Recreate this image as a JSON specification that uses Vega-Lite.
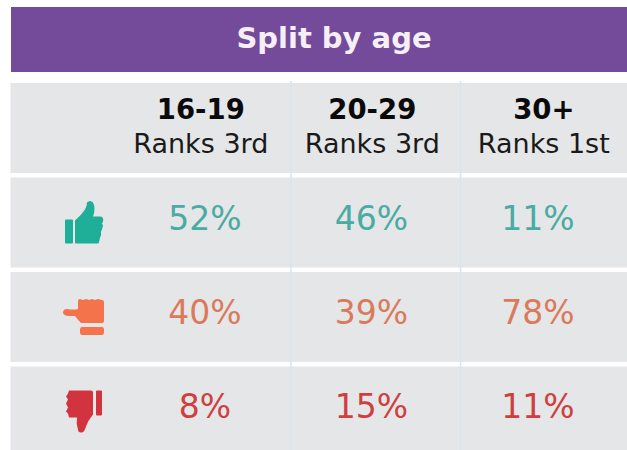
{
"$schema":"https://vega.github.io/schema/vega-lite/v6.json",
"width":627,"height":450,"padding":0,"autosize":{"type":"none"},"background":"#ffffff",
"config":{"view":{"stroke":null},"font":"DejaVu Sans"},
"datasets":{
"title":[{"label":"Split by age"}],
"rows":[{"row":"header"},{"row":"like"},{"row":"neutral"},{"row":"dislike"}],
"icons":[{"row":"like"},{"row":"neutral"},{"row":"dislike"}],
"seps":[{"after":"16-19"},{"after":"20-29"}],
"ages":[{"age":"16-19","rank":"Ranks 3rd"},{"age":"20-29","rank":"Ranks 3rd"},{"age":"30+","rank":"Ranks 1st"}],
"cells":[
{"age":"16-19","row":"like","share":0.52},{"age":"20-29","row":"like","share":0.46},{"age":"30+","row":"like","share":0.11},
{"age":"16-19","row":"neutral","share":0.40},{"age":"20-29","row":"neutral","share":0.39},{"age":"30+","row":"neutral","share":0.78},
{"age":"16-19","row":"dislike","share":0.08},{"age":"20-29","row":"dislike","share":0.15},{"age":"30+","row":"dislike","share":0.11}]
},
"resolve":{"scale":{"x":"independent","y":"independent","color":"independent","shape":"independent"}},
"layer":[
{"data":{"name":"title"},"mark":{"type":"rect","color":"#744a9a"},
 "encoding":{"x":{"field":"label","type":"nominal","axis":null,"scale":{"type":"band","range":[11,627],"padding":0}},
 "y":{"field":"label","type":"nominal","axis":null,"scale":{"type":"band","range":[7,72],"padding":0}}}},
{"data":{"name":"title"},"mark":{"type":"text","font":"DejaVu Sans","fontWeight":"bold","fontSize":29,"color":"#f6eff6","align":"center","baseline":"middle","dy":-1},
 "encoding":{"x":{"field":"label","type":"nominal","axis":null,"scale":{"type":"band","range":[40,628],"padding":0}},
 "y":{"field":"label","type":"nominal","axis":null,"scale":{"type":"band","range":[7,72],"padding":0}},
 "text":{"field":"label"}}},
{"data":{"name":"rows"},"mark":{"type":"rect","color":"#e5e6e7"},
 "encoding":{"x":{"datum":"all","type":"nominal","axis":null,"scale":{"type":"band","domain":["all"],"range":[10.5,627],"padding":0}},
 "y":{"field":"row","type":"nominal","axis":null,"sort":null,"scale":{"type":"band","domain":["header","like","neutral","dislike"],"range":[83,456.5],"paddingInner":0.0476,"paddingOuter":0}}}},
{"data":{"name":"seps"},"mark":{"type":"rule","color":"#d6e5ef","strokeWidth":1.5},
 "encoding":{"x":{"field":"after","type":"nominal","axis":null,"scale":{"type":"point","domain":["16-19","20-29"],"range":[291,460.5],"padding":0}},
 "y":{"datum":"top","type":"nominal","axis":null,"scale":{"type":"point","domain":["top","bottom"],"range":[81,450],"padding":0}},
 "y2":{"datum":"bottom"}}},
{"data":{"name":"ages"},"mark":{"type":"text","fontWeight":"bold","fontSize":27.5,"color":"#0a0a0a","align":"center","baseline":"middle","dy":-17},
 "encoding":{"x":{"field":"age","type":"nominal","axis":null,"sort":null,"scale":{"type":"band","domain":["16-19","20-29","30+"],"range":[115.05,629.55],"padding":0}},
 "y":{"datum":"header","type":"nominal","axis":null,"scale":{"type":"band","domain":["header","like","neutral","dislike"],"range":[83,456.5],"paddingInner":0.0476,"paddingOuter":0}},
 "text":{"field":"age"}}},
{"data":{"name":"ages"},"mark":{"type":"text","fontSize":27,"color":"#1a1a1a","align":"center","baseline":"middle","dy":16.5},
 "encoding":{"x":{"field":"age","type":"nominal","axis":null,"sort":null,"scale":{"type":"band","domain":["16-19","20-29","30+"],"range":[115.05,629.55],"padding":0}},
 "y":{"datum":"header","type":"nominal","axis":null,"scale":{"type":"band","domain":["header","like","neutral","dislike"],"range":[83,456.5],"paddingInner":0.0476,"paddingOuter":0}},
 "text":{"field":"rank"}}},
{"data":{"name":"cells"},"mark":{"type":"text","fontSize":33,"align":"center","baseline":"middle","dy":-3},
 "encoding":{"x":{"field":"age","type":"nominal","axis":null,"sort":null,"scale":{"type":"band","domain":["16-19","20-29","30+"],"range":[121.75,621.25],"padding":0}},
 "y":{"field":"row","type":"nominal","axis":null,"scale":{"type":"band","domain":["header","like","neutral","dislike"],"range":[83,456.5],"paddingInner":0.0476,"paddingOuter":0}},
 "color":{"field":"row","type":"nominal","legend":null,"scale":{"domain":["like","neutral","dislike"],"range":["#4aaba3","#da7a5c","#cd3f40"]}},
 "text":{"field":"share","format":".0%"}}},
{"data":{"name":"icons"},"mark":{"type":"point","filled":true,"size":4,"opacity":1,"strokeWidth":0},
 "encoding":{"x":{"datum":"icon","type":"nominal","axis":null,"scale":{"type":"band","domain":["icon"],"range":[44,124],"padding":0}},
 "y":{"field":"row","type":"nominal","axis":null,"scale":{"type":"band","domain":["header","like","neutral","dislike"],"range":[83,456.5],"paddingInner":0.0476,"paddingOuter":0}},
 "color":{"field":"row","type":"nominal","legend":null,"scale":{"domain":["like","neutral","dislike"],"range":["#1fae97","#f4734a","#d2343f"]}},
 "shape":{"field":"row","type":"nominal","legend":null,"scale":{"domain":["like","neutral","dislike"],"range":[
 "M-18 -3 Q-19 -3 -19 -2 V20 Q-19 21 -18 21 H-12 Q-11 21 -11 20 V-2 Q-11 -3 -12 -3 Z M-9 -2 Q-3 -7 1 -13 Q3 -17 3 -20 Q6 -23 9 -20 Q12 -14 9 -6 H17 Q20 -5 19 -1 L18 1 L19 3 L18 7 L17 9 L17 13 L16 15 L15 20 Q15 21 13 21 H-8 Q-9 21 -9 20 Z",
 "M-6 -16 Q-6 -18 -4 -18 L-1 -17 L2 -18 L5 -17 L8 -18 L11 -17 L14 -18 L18 -17 Q20 -17 20 -15 V4 Q20 6 18 6 H-3 Q-6 3 -9 -1 H-15 Q-20 -1 -21 -4 Q-21 -8 -17 -8 Q-10 -7 -6 -8 Z M-2 10 H18 Q20 10 20 13 V15 Q20 18 18 18 H-2 Q-4 18 -4 15 V13 Q-4 10 -2 10 Z",
 "M13 -21 Q12 -21 12 -20 V3 Q12 4 13 4 H17 Q18 4 18 3 V-20 Q18 -21 17 -21 Z M-15 -21 H7 Q9 -21 9 -19 V3 Q4 9 2 15 Q0 22 -3 21 Q-6 21 -6 18 Q-8 12 -7 6 H-15 L-16 2 L-18 0 L-16 -4 L-18 -8 L-16 -12 L-18 -15 L-16 -18 Z"
 ]}}}}
]
}
